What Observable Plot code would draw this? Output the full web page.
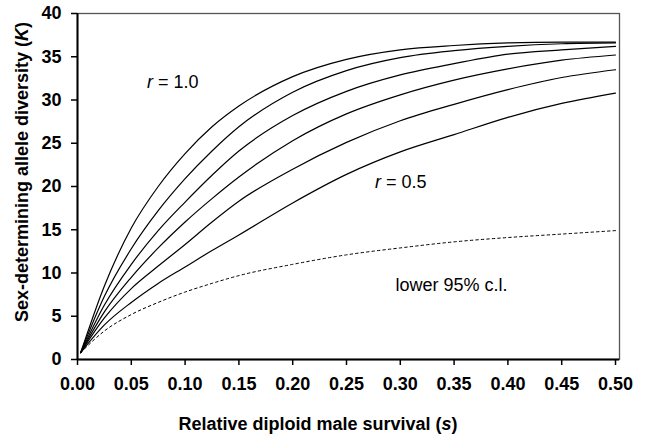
<!DOCTYPE html>
<html><head><meta charset="utf-8">
<script src="https://cdn.jsdelivr.net/npm/d3@7"></script>
<script src="https://cdn.jsdelivr.net/npm/@observablehq/plot@0.6"></script>
<style>body{margin:0;background:#fff} svg{display:block}</style>
</head><body><div id="chart"></div>
<script>
// Relative diploid male survival (s)
const sValues = [0.003, 0.025, 0.05, 0.075, 0.1, 0.125, 0.15, 0.2, 0.25, 0.3, 0.35, 0.4, 0.45, 0.5];
// Sex-determining allele diversity (K) for r = 1.0 ... 0.5
const kR10 = [0.8, 8.5, 15.2, 20.0, 23.8, 26.9, 29.3, 32.7, 34.7, 35.8, 36.3, 36.6, 36.7, 36.7];
const kR09 = [0.8, 7.3, 12.8, 17.2, 20.9, 24.1, 26.9, 30.9, 33.4, 34.9, 35.7, 36.2, 36.5, 36.6];
const kR08 = [0.8, 6.3, 11.0, 14.9, 18.2, 21.3, 24.1, 28.2, 31.0, 32.9, 34.2, 35.3, 35.8, 36.2];
const kR07 = [0.8, 5.5, 9.5, 12.9, 15.9, 18.6, 21.1, 25.3, 28.4, 30.6, 32.3, 33.6, 34.6, 35.2];
const kR06 = [0.8, 4.8, 8.2, 10.8, 13.3, 15.9, 18.3, 22.0, 25.1, 27.6, 29.5, 31.2, 32.6, 33.5];
const kR05 = [0.8, 4.0, 6.6, 8.8, 10.7, 12.6, 14.4, 18.1, 21.4, 24.0, 26.0, 28.0, 29.6, 30.8];
// lower 95% confidence limit
const kLower = [0.8, 3.3, 5.2, 6.6, 7.8, 8.8, 9.7, 11.0, 12.1, 12.9, 13.6, 14.1, 14.5, 14.9];

const rLabels = ["1.0", "0.9", "0.8", "0.7", "0.6", "0.5"];
const rSeries = [kR10, kR09, kR08, kR07, kR06, kR05];

const xTicks = [0, 0.05, 0.10, 0.15, 0.20, 0.25, 0.30, 0.35, 0.40, 0.45, 0.50];
const yTicks = [0, 5, 10, 15, 20, 25, 30, 35, 40];

// annotations: position in data units
const notes = [
  {s: 0.089, k: 32.1, italic: "r", rest: " = 1.0"},
  {s: 0.301, k: 20.5, italic: "r", rest: " = 0.5"},
  {s: 0.348, k: 8.6, italic: "", rest: "lower 95% c.l."}
];

const solid = rSeries.flatMap((arr, i) => arr.map((k, j) => ({r: rLabels[i], s: sValues[j], k})));
const lower = kLower.map((k, j) => ({s: sValues[j], k}));

const W = 647, H = 436;
const font = "'Liberation Sans', Arial, Helvetica, sans-serif";
const FS = 18;

const chart = Plot.plot({
  width: W, height: H,
  marginLeft: 77, marginRight: 28, marginTop: 13, marginBottom: 77,
  style: {fontFamily: font, background: "#fff", color: "#000"},
  x: {domain: [0, 0.5], range: [77, 615]},
  y: {domain: [0, 40]},
  marks: [
    Plot.frame({stroke: "#555", strokeWidth: 1.3}),
    Plot.line(lower, {x: "s", y: "k", stroke: "#000", strokeWidth: 1, strokeDasharray: "2.5,3", curve: "monotone-x"}),
    Plot.line(solid, {x: "s", y: "k", z: "r", stroke: "#000", strokeWidth: 1.2, curve: "monotone-x"}),
    Plot.ruleY([0], {stroke: "#000", strokeWidth: 2}),
    Plot.ruleX([0], {stroke: "#000", strokeWidth: 2}),
    Plot.axisX(xTicks, {tickSize: 6, tickPadding: 12, tickFormat: d3.format(".2f"), fontSize: FS, fontWeight: "bold", label: null, stroke: "#000", strokeWidth: 1.5}),
    Plot.axisY(yTicks, {tickSize: 6, tickPadding: 10, fontSize: FS, fontWeight: "bold", label: null, stroke: "#000", strokeWidth: 1.5})
  ]
});

const svg = d3.select(chart);
const xs = chart.scale("x"), ys = chart.scale("y");

// axis titles
const xt = svg.append("text")
  .attr("x", 318).attr("y", 430)
  .attr("text-anchor", "middle").attr("font-size", FS).attr("font-weight", "bold")
  .attr("font-family", font).attr("fill", "#000");
xt.append("tspan").text("Relative diploid male survival (");
xt.append("tspan").attr("font-style", "italic").text("s");
xt.append("tspan").text(")");

const yt = svg.append("text")
  .attr("transform", `translate(28,172) rotate(-90)`)
  .attr("text-anchor", "middle").attr("font-size", FS).attr("font-weight", "bold")
  .attr("font-family", font).attr("fill", "#000");
yt.append("tspan").text("Sex-determining allele diversity (");
yt.append("tspan").attr("font-style", "italic").text("K");
yt.append("tspan").text(")");

// annotations
for (const n of notes) {
  const t = svg.append("text")
    .attr("x", xs.apply(n.s)).attr("y", ys.apply(n.k))
    .attr("dy", "0.35em")
    .attr("font-size", FS).attr("font-family", font).attr("fill", "#000");
  if (n.italic) t.append("tspan").attr("font-style", "italic").text(n.italic);
  t.append("tspan").text(n.rest);
}

document.getElementById("chart").appendChild(chart);
</script>
</body></html>
